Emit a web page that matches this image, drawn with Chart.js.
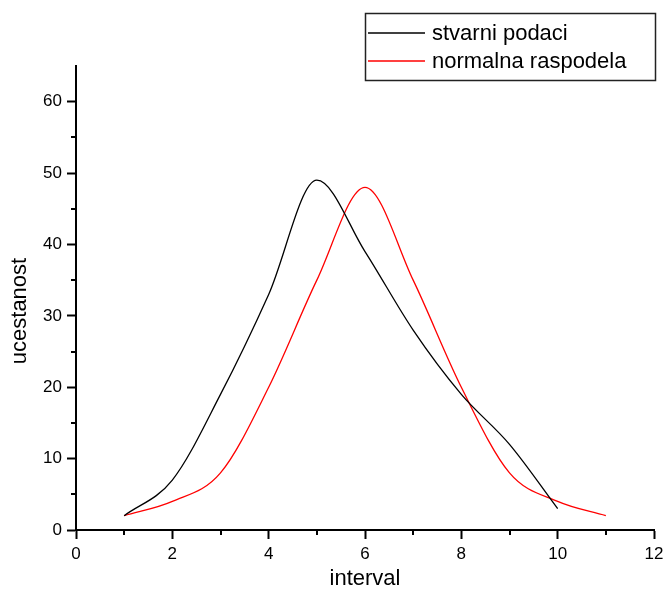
<!DOCTYPE html>
<html>
<head>
<meta charset="utf-8">
<script src="https://cdn.jsdelivr.net/npm/chart.js@4"></script>
<style>
  html, body { margin: 0; padding: 0; background: #fff; }
  #wrap { width: 665px; height: 596px; }
</style>
</head>
<body>
<div id="wrap"><canvas id="grafik"></canvas></div>
<script>
// podaci
const intervalStvarni = [1, 2, 3, 4, 5, 6, 7, 8, 9, 10];
const stvarniPodaci = [2, 7, 19, 33, 49, 39, 28, 19, 12, 3];
const intervalNormalna = [1, 2, 3, 4, 5, 6, 7, 8, 9, 10, 11];
const normalnaRaspodela = [2, 4, 8, 20, 35, 48, 35, 20, 8, 4, 2];
const xTicks = [0, 2, 4, 6, 8, 10, 12];
const yTicks = [0, 10, 20, 30, 40, 50, 60];
const nazivi = ['stvarni podaci', 'normalna raspodela'];

const FONT = "'Liberation Sans', Arial, sans-serif";

// sitne crtice + legenda u okviru + naslov y ose
const dodaci = {
  id: 'dodaci',
  afterDraw(chart) {
    const ctx = chart.ctx;
    const x = chart.scales.x, y = chart.scales.y;
    ctx.save();
    ctx.strokeStyle = '#000';
    ctx.lineWidth = 2;
    ctx.beginPath();
    for (let v = 1; v < 12; v += 2) {
      const px = Math.round(x.getPixelForValue(v));
      ctx.moveTo(px, y.bottom);
      ctx.lineTo(px, y.bottom + 5);
    }
    for (let v = 5; v < 65; v += 10) {
      const py = Math.round(y.getPixelForValue(v));
      ctx.moveTo(x.left, py);
      ctx.lineTo(x.left - 5, py);
    }
    ctx.stroke();

    // legenda
    ctx.lineWidth = 1.5;
    ctx.strokeStyle = '#222';
    ctx.strokeRect(365.5, 13.5, 290, 67);
    ctx.font = '22px ' + FONT;
    ctx.textBaseline = 'middle';
    ctx.fillStyle = '#000';
    chart.data.datasets.forEach((ds, i) => {
      const ry = 33 + i * 28;
      ctx.strokeStyle = ds.borderColor;
      ctx.lineWidth = 1.5;
      ctx.beginPath();
      ctx.moveTo(368, ry);
      ctx.lineTo(425, ry);
      ctx.stroke();
      ctx.fillText(ds.label, 432, ry + 1);
    });

    // naslov y ose
    ctx.translate(20, 311);
    ctx.rotate(-Math.PI / 2);
    ctx.textAlign = 'center';
    ctx.fillText('ucestanost', 0, 0);
    ctx.restore();
  }
};

new Chart(document.getElementById('grafik'), {
  type: 'line',
  data: {
    datasets: [
      {
        label: nazivi[0],
        data: intervalStvarni.map((v, i) => ({ x: v, y: stvarniPodaci[i] })),
        borderColor: '#000000',
        borderWidth: 1.3,
        pointRadius: 0,
        cubicInterpolationMode: 'monotone',
        fill: false
      },
      {
        label: nazivi[1],
        data: intervalNormalna.map((v, i) => ({ x: v, y: normalnaRaspodela[i] })),
        borderColor: '#ff0000',
        borderWidth: 1.3,
        pointRadius: 0,
        cubicInterpolationMode: 'monotone',
        fill: false
      }
    ]
  },
  options: {
    responsive: true,
    maintainAspectRatio: false,
    animation: false,
    layout: { padding: { top: 66, right: 11, left: 0, bottom: 0 } },
    plugins: {
      legend: { display: false },
      tooltip: { enabled: false }
    },
    scales: {
      x: {
        type: 'linear',
        min: 0,
        max: 12,
        afterBuildTicks: s => { s.ticks = xTicks.map(v => ({ value: v })); },
        afterFit: s => { s.height = 66; s.paddingLeft = 0; s.paddingRight = 0; },
        grid: { drawOnChartArea: false, drawTicks: true, tickLength: 9, tickColor: '#000', tickWidth: 2 },
        border: { display: true, color: '#000', width: 2 },
        ticks: { color: '#000', padding: 5, font: { family: FONT, size: 17 }, maxRotation: 0 },
        title: { display: true, text: 'interval', color: '#000', font: { family: FONT, size: 22 }, padding: { top: 0, bottom: 4 } }
      },
      y: {
        type: 'linear',
        min: 0,
        max: 65,
        afterBuildTicks: s => { s.ticks = yTicks.map(v => ({ value: v })); },
        afterFit: s => { s.width = 76; s.paddingTop = 0; s.paddingBottom = 0; },
        grid: { drawOnChartArea: false, drawTicks: true, tickLength: 9, tickColor: '#000', tickWidth: 2 },
        border: { display: true, color: '#000', width: 2 },
        ticks: { color: '#000', padding: 5, font: { family: FONT, size: 17 } },
        title: { display: false }
      }
    }
  },
  plugins: [dodaci]
});
</script>
</body>
</html>
